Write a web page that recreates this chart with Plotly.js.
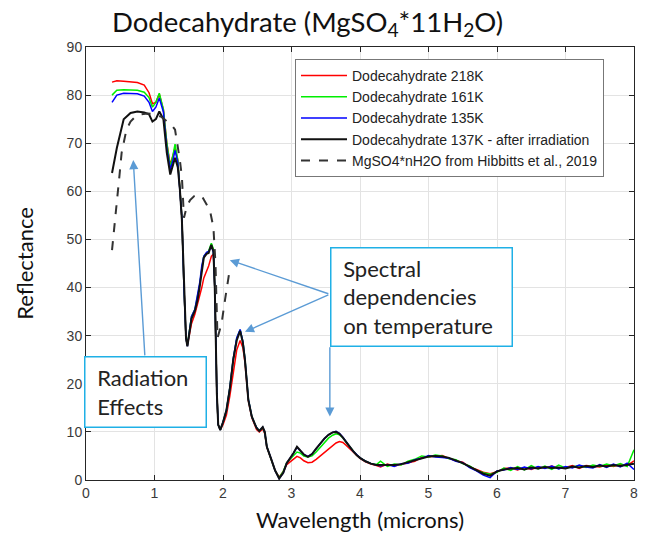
<!DOCTYPE html>
<html>
<head>
<meta charset="utf-8">
<script src="https://cdn.plot.ly/plotly-3.0.1.min.js"></script>
<style>html,body{margin:0;padding:0;background:#fff;}#chart{width:651px;height:542px;}</style>
</head>
<body>
<div id="chart"></div>
<script>
// Wavelength grid (microns) shared by the four lab spectra
const wavelength = [0.38,0.45,0.55,0.65,0.75,0.85,0.92,0.97,1.02,1.07,
  1.13,1.18,1.23,1.27,1.30,1.34,1.37,1.40,1.43,1.46,
  1.48,1.51,1.54,1.59,1.63,1.66,1.69,1.72,1.76,1.79,
  1.83,1.86,1.88,1.91,1.93,1.96,2.00,2.05,2.10,2.15,
  2.20,2.25,2.29,2.32,2.37,2.42,2.46,2.49,2.53,2.58,
  2.61,2.64,2.70,2.76,2.82,2.88,2.93,2.98,3.03,3.08,
  3.13,3.18,3.24,3.30,3.36,3.42,3.48,3.54,3.60,3.65,
  3.70,3.75,3.80,3.85,3.90,3.95,4.00,4.08,4.16,4.24,
  4.3,4.4,4.5,4.6,4.7,4.8,4.9,5.0,5.1,5.2,
  5.3,5.4,5.5,5.6,5.7,5.8,5.9,6.0,6.1,6.2,
  6.3,6.4,6.5,6.6,6.7,6.8,6.9,7.0,7.1,7.2,
  7.3,7.4,7.5,7.6,7.7,7.8,7.9,8.0];

const refl218K = [82.7,83.0,82.9,82.8,82.6,82.1,80.5,78.2,78.5,80.2,
  77,70,65.5,67.5,69,66.5,61,54.5,40,29.5,
  28,30,32.5,34.5,36.5,38,40,42,43.5,44.5,
  46.5,47,40,18,11.5,10.4,11.5,13.5,17.5,22.5,
  27,29,27.5,24.5,16.5,13,11.5,10.5,10,10.6,
  9.6,6.8,4.4,2.0,0.6,1.8,3.2,3.8,4.4,4.9,
  4.6,4.0,3.6,3.7,4.3,5.0,5.8,6.6,7.3,7.7,
  8.0,7.8,7.2,6.5,5.8,5.1,4.5,3.8,3.3,3.0,
  2.7,3.3,2.9,3.2,3.6,3.9,4.7,4.8,4.9,5.1,
  4.5,4.0,3.7,2.7,2.2,1.6,1.3,1.7,2.4,2.5,
  2.1,2.6,2.2,2.7,2.5,2.9,2.4,2.6,3.0,2.4,
  3.0,2.8,2.7,3.1,2.8,3.2,3.0,4.0];

const refl161K = [80.0,81.0,81.1,81.0,81.0,80.6,79.5,77.5,78.5,80.4,
  77,70,65,67.5,69.8,66.5,61,54.5,40,29.5,
  28,31,34,35.5,38,40.5,44,46.5,47.2,47.6,
  49.2,48,40,18,11.5,10.4,12,14.5,19.2,25.2,
  29.4,31.2,28.8,25.2,16.8,13.2,11.8,10.9,10.2,10.9,
  9.8,6.9,4.4,2.0,0.5,1.8,3.6,4.3,5.1,5.8,
  5.6,5.0,4.8,5.0,5.8,6.8,7.8,8.7,9.3,9.6,
  9.4,8.8,7.8,6.9,6.0,5.2,4.6,3.9,3.4,3.2,
  3.9,2.8,3.3,3.1,3.9,4.3,5.0,4.8,5.2,5.0,
  4.4,4.2,3.4,2.9,2.0,1.5,1.2,1.6,2.5,2.0,
  2.8,2.1,3.0,2.3,2.9,2.2,3.1,2.5,2.7,3.0,
  2.6,3.1,2.8,3.3,2.9,3.4,2.8,6.3];

const refl135K = [78.5,80.0,80.4,80.4,80.3,79.8,78.5,76.6,77.5,79.4,
  76.5,69,64.5,66.5,68.5,66,61,54.5,40,29.5,
  27.8,31,34,35.5,38.5,41,44.5,46.5,47.3,47.5,
  48.6,47.3,40,18,11.5,10.4,12,14.5,19.2,25.3,
  29.5,31.3,28.8,25.2,16.8,13.2,11.8,10.9,10.2,11.0,
  9.9,6.9,4.5,2.0,0.3,1.5,3.5,4.5,5.6,6.8,
  6.1,5.3,4.9,5.4,6.5,7.6,8.6,9.4,9.9,10.1,
  9.7,8.9,7.8,6.9,6.0,5.2,4.6,3.9,3.4,3.1,
  2.9,3.2,2.8,3.4,3.5,4.2,4.5,5.1,4.8,4.7,
  4.5,3.9,3.6,2.6,1.9,1.0,0.5,1.9,2.1,2.6,
  2.2,2.7,2.3,2.8,2.4,2.9,2.3,2.8,2.5,3.1,
  2.7,2.5,3.2,2.6,3.3,2.7,3.5,2.2];

const refl137KIrr = [63.8,69,75,76.3,76.6,76.4,76.0,74.5,75.0,76.6,
  75,68,63.5,65.5,67.0,65,60.5,54,40,29.5,
  27.8,30.5,33.5,35.2,37.5,40.2,43.5,46.2,47,47.2,
  48.9,47.5,40,18,11.5,10.4,12,14.5,19,25,
  29,31,28.5,25,16.6,13.2,11.8,10.8,10.2,11.0,
  10,6.9,4.5,2,0.3,1.5,3.5,4.5,5.6,6.9,
  6.2,5.3,4.8,5.4,6.5,7.6,8.6,9.4,9.9,10.0,
  9.6,8.8,7.8,6.9,6.0,5.2,4.6,3.9,3.4,3.1,
  3.1,3.0,3.1,3.3,3.7,4.1,4.6,4.9,5.0,4.9,
  4.6,4.1,3.5,2.8,2.1,1.3,0.9,1.8,2.2,2.3,
  2.5,2.2,2.6,2.4,2.7,2.5,2.6,2.4,2.8,2.6,
  2.9,2.7,3.0,2.8,3.1,2.9,3.2,3.4];

// Hibbitts et al., 2019 spectrum
const hibbittsWl = [0.38,0.42,0.45,0.49,0.52,0.56,0.59,0.65,0.72,0.8,
  0.9,1.0,1.1,1.2,1.25,1.3,1.34,1.37,1.40,1.43,
  1.47,1.52,1.58,1.64,1.70,1.76,1.81,1.86,1.89,1.92,
  1.95,1.98,2.03,2.09];
const hibbittsRefl = [47.8,53,58,63.5,68,71,72.8,74.5,75.5,76,
  76.2,76,75.5,74.3,73.8,72.8,69.3,66.5,63,54.5,
  56.8,58.2,59.0,59.3,58.8,57.4,56,52.5,45,29.5,
  31,32.6,37.5,43];

const seriesNames = ['Dodecahydrate 218K','Dodecahydrate 161K','Dodecahydrate 135K',
  'Dodecahydrate 137K - after irradiation','MgSO4*nH2O from Hibbitts et al., 2019'];
const xTicks = [0,1,2,3,4,5,6,7,8];
const yTicks = [0,10,20,30,40,50,60,70,80,90];

const traces = [
  {x: wavelength, y: refl218K, name: seriesNames[0], mode:'lines', line:{color:'#ff0000', width:1.5}},
  {x: wavelength, y: refl161K, name: seriesNames[1], mode:'lines', line:{color:'#00ee00', width:1.5}},
  {x: wavelength, y: refl135K, name: seriesNames[2], mode:'lines', line:{color:'#0000ff', width:1.5}},
  {x: wavelength, y: refl137KIrr, name: seriesNames[3], mode:'lines', line:{color:'#111111', width:2}},
  {x: hibbittsWl, y: hibbittsRefl, name: seriesNames[4], mode:'lines', line:{color:'#333333', width:2, dash:'dash'}}
];

const arrowColor = '#5b9bd5';
const boxColor = '#1fb0e6';
function arrow(hx, hy, tx, ty) {
  return {x:hx, y:hy, ax:tx, ay:ty, xref:'x', yref:'y', axref:'x', ayref:'y',
    text:'', showarrow:true, arrowhead:2, arrowsize:1.3, arrowwidth:1.4, arrowcolor:arrowColor};
}

const layout = {
  width:651, height:542,
  margin:{l:86, r:17, t:47, b:62},
  paper_bgcolor:'#fff', plot_bgcolor:'#fff',
  title:{text:'Dodecahydrate (MgSO<sub>4</sub>*11H<sub>2</sub>O)', x:112/651, xanchor:'left', xref:'container',
    y:1-22/542, yanchor:'middle', yref:'container', font:{family:'Lato, "Open Sans", sans-serif', size:27.5, color:'#111'}},
  xaxis:{range:[0,8], tickvals:xTicks, ticks:'inside', ticklen:5, tickcolor:'#262626',
    showline:true, linecolor:'#262626', linewidth:1, mirror:'ticks', showgrid:true, gridcolor:'#e3e3e3',
    zeroline:false, tickfont:{family:'"Liberation Sans", Arial, sans-serif', size:14, color:'#3a3a3a'},
    title:{text:'Wavelength (microns)', font:{family:'Lato, sans-serif', size:22, color:'#111'}, standoff:12}},
  yaxis:{range:[0,90], tickvals:yTicks, ticks:'inside', ticklen:5, tickcolor:'#262626',
    showline:true, linecolor:'#262626', linewidth:1, mirror:'ticks', showgrid:true, gridcolor:'#e3e3e3',
    zeroline:false, tickfont:{family:'"Liberation Sans", Arial, sans-serif', size:14, color:'#3a3a3a'},
    title:{text:'Reflectance', font:{family:'Lato, sans-serif', size:22, color:'#111'}, standoff:26}},
  legend:{x:(295-86)/548, y:(480-59)/433, xanchor:'left', yanchor:'top', bgcolor:'#fff',
    bordercolor:'#777', borderwidth:1, font:{family:'"Liberation Sans", Arial, sans-serif', size:14, color:'#222'},
    tracegroupgap:0, itemwidth:46},
  showlegend:true,
  annotations:[
    arrow(2.10, 45.7, 3.56, 38.6),
    arrow(2.32, 30.8, 3.56, 38.6),
    arrow(3.56, 13.2, 3.56, 27.9),
    arrow(0.69, 66.5, 0.86, 25.6),
    {x:(330-86)/548, y:(480-247)/433, xref:'paper', yref:'paper', xanchor:'left', yanchor:'top', showarrow:false,
     text:'&nbsp;Spectral<br>&nbsp;dependencies<br>&nbsp;on temperature', align:'left', valign:'middle',
     width:168, height:85, borderpad:6, bordercolor:boxColor, borderwidth:1.5, bgcolor:'#fff',
     font:{family:'Lato, sans-serif', size:22, color:'#222'}},
    {x:(84-86)/548, y:(480-356)/433, xref:'paper', yref:'paper', xanchor:'left', yanchor:'top', showarrow:false,
     text:'&nbsp;Radiation<br>&nbsp;Effects', align:'left', valign:'middle',
     width:108, height:57, borderpad:6, bordercolor:boxColor, borderwidth:1.5, bgcolor:'#fff',
     font:{family:'Lato, sans-serif', size:22, color:'#222'}}
  ]
};

Plotly.newPlot('chart', traces, layout, {displayModeBar:false, staticPlot:true});
</script>
</body>
</html>
